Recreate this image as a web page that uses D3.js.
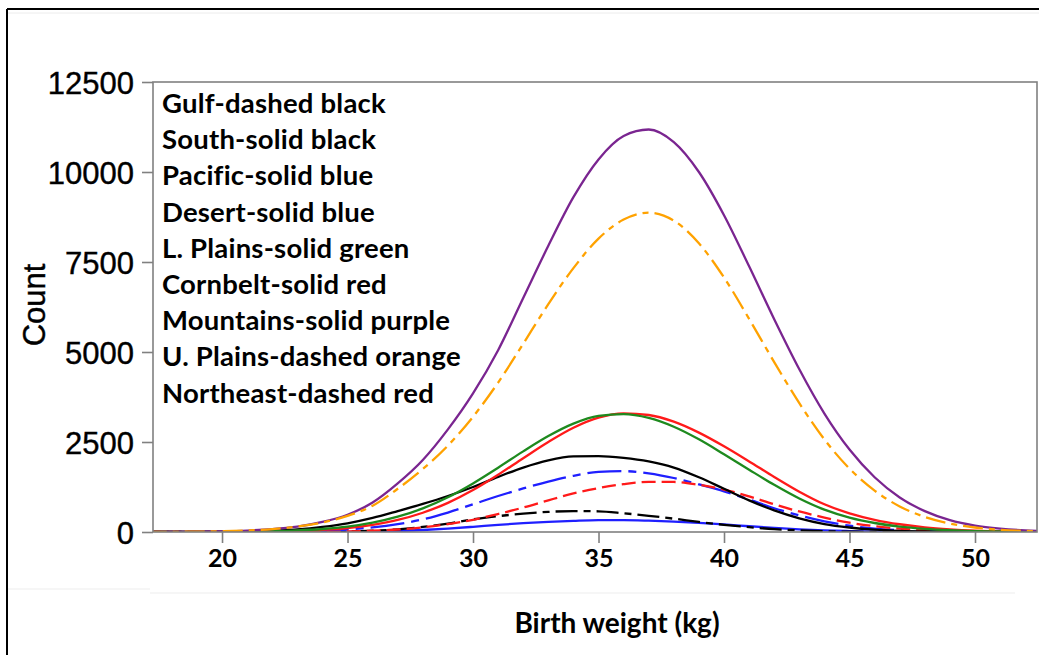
<!DOCTYPE html>
<html><head><meta charset="utf-8">
<script src="https://cdn.jsdelivr.net/npm/d3@7"></script>
<style>html,body{margin:0;padding:0;background:#fff;}svg{display:block;}</style>
</head><body>
<script>
// ---- data ----
const weights = [17,18,19,20,21,22,23,24,25,26,27,28,29,30,31,32,33,34,35,36,37,38,39,40,41,42,43,44,45,46,47,48,49,50,51,52,53];
const gulf      = [0,0,0,0,1,2,3,5,15,35,75,140,230,350,440,510,560,580,575,520,450,370,280,200,135,80,45,22,10,4,2,1,0,0,0,0,0];
const south     = [0,1,2,5,12,30,70,140,240,390,580,780,1000,1250,1530,1790,1990,2100,2110,2060,1960,1790,1520,1200,880,600,380,220,125,65,32,15,7,3,1,0,0];
const pacific   = [0,0,0,1,2,5,15,35,70,130,220,350,540,770,1000,1210,1400,1560,1670,1690,1630,1500,1320,1130,900,660,460,295,175,95,48,22,10,4,2,0,0];
const desert    = [0,0,0,0,0,1,2,4,6,10,25,55,95,145,200,245,280,310,330,330,315,290,255,210,160,115,75,45,25,12,5,2,1,0,0,0,0];
const lplains   = [0,1,2,4,10,21,43,83,150,260,425,655,965,1350,1785,2240,2665,3010,3225,3275,3170,2925,2575,2160,1730,1310,930,620,400,250,150,88,50,27,14,7,3];
const cornbelt  = [0,1,2,3,6,14,30,60,110,200,335,535,810,1165,1590,2050,2500,2895,3175,3295,3250,3065,2760,2380,1960,1530,1120,770,520,340,215,130,75,40,22,12,6];
const mountains = [2,4,9,19,40,80,150,280,480,820,1350,2000,2850,3850,5050,6500,7950,9300,10350,11000,11180,10830,10000,8800,7380,5910,4520,3290,2290,1520,960,580,330,180,95,45,20];
const uplains   = [2,5,10,21,43,82,150,265,450,730,1200,1750,2400,3200,4150,5230,6330,7330,8150,8680,8870,8650,8020,7070,5920,4720,3580,2570,1760,1150,710,420,235,125,63,30,14];
const northeast = [0,0,0,0,0,1,2,5,15,35,70,130,220,340,500,680,880,1070,1220,1330,1390,1390,1310,1180,990,770,570,400,260,160,95,50,25,12,5,2,0];
const legendLines = ["Gulf-dashed black","South-solid black","Pacific-solid blue","Desert-solid blue","L. Plains-solid green","Cornbelt-solid red","Mountains-solid purple","U. Plains-dashed orange","Northeast-dashed red"];
const xTicks = [20,25,30,35,40,45,50];
const yTicks = [0,2500,5000,7500,10000,12500];

// drawing order / style
const series = [
  {values: desert,    color:"#1f1fff", dash:null},
  {values: gulf,      color:"#000000", dash:"22,6,7,6"},
  {values: pacific,   color:"#1f1fff", dash:"34,7,8,7"},
  {values: northeast, color:"#ff1a1a", dash:"14,6"},
  {values: south,     color:"#000000", dash:null},
  {values: cornbelt,  color:"#ff1a1a", dash:null},
  {values: lplains,   color:"#1e8a1e", dash:null},
  {values: mountains, color:"#7a2590", dash:null},
  {values: uplains,   color:"#ffa200", dash:"20,6,6,6"}
];

const W = 1039, H = 655;
const svg = d3.select("body").append("svg").attr("width", W).attr("height", H);
svg.append("rect").attr("width", W).attr("height", H).attr("fill", "#fff");

// outer frame and faint lines
svg.append("line").attr("x1",7).attr("y1",9).attr("x2",W).attr("y2",9).attr("stroke","#000").attr("stroke-width",2);
svg.append("line").attr("x1",7).attr("y1",9).attr("x2",7).attr("y2",H).attr("stroke","#000").attr("stroke-width",2);
svg.append("line").attr("x1",8).attr("y1",13).attr("x2",W).attr("y2",13).attr("stroke","#ececec").attr("stroke-width",1);
svg.append("line").attr("x1",8).attr("y1",589).attr("x2",150).attr("y2",589).attr("stroke","#ededed").attr("stroke-width",1);
svg.append("line").attr("x1",150).attr("y1",593).attr("x2",1015).attr("y2",593).attr("stroke","#ededed").attr("stroke-width",1);

const x = d3.scaleLinear().domain([17.25, 52.47]).range([153, 1037]);
const y = d3.scaleLinear().domain([0, 12500]).range([532, 82]);

svg.append("clipPath").attr("id","plotclip").append("rect")
  .attr("x",153).attr("y",82).attr("width",1037-153).attr("height",532-82);

const line = d3.line().x((d,i)=>x(weights[i])).y(d=>y(d)).curve(d3.curveMonotoneX);
const g = svg.append("g").attr("clip-path","url(#plotclip)");
series.forEach(s=>{
  g.append("path").attr("d", line(s.values)).attr("fill","none")
   .attr("stroke", s.color).attr("stroke-width", 2.3)
   .attr("stroke-dasharray", s.dash).attr("stroke-linejoin","round");
});

// plot box
svg.append("rect").attr("x",153).attr("y",82).attr("width",1037-153).attr("height",532-82)
  .attr("fill","none").attr("stroke","#808080").attr("stroke-width",1.6);

// axes
const yAxis = d3.axisLeft(y).tickValues(yTicks).tickSize(11).tickPadding(8).tickFormat(d=>String(d));
const ya = svg.append("g").attr("transform","translate(153,0)").call(yAxis);
ya.select(".domain").remove();
ya.selectAll(".tick line").attr("stroke","#808080").attr("stroke-width",1.6);
ya.selectAll(".tick text").attr("font-family","'Liberation Sans', Arial, sans-serif").attr("font-size",31)
  .attr("fill","#000").attr("stroke","#000").attr("stroke-width",0.4).attr("dy","0.36em");

const xAxis = d3.axisBottom(x).tickValues(xTicks).tickSize(11).tickPadding(6).tickFormat(d=>String(d));
const xa = svg.append("g").attr("transform","translate(0,532)").call(xAxis);
xa.select(".domain").remove();
xa.selectAll(".tick line").attr("stroke","#808080").attr("stroke-width",1.6);
xa.selectAll(".tick text").attr("font-family","Lato, sans-serif").attr("font-weight","bold").attr("font-size",25).attr("fill","#000");

// axis titles
svg.append("text").attr("transform","translate(45,305) rotate(-90)").attr("text-anchor","middle")
  .attr("font-family","'Liberation Sans', Arial, sans-serif").attr("font-size",31).attr("fill","#000")
  .attr("stroke","#000").attr("stroke-width",0.4).text("Count");
svg.append("text").attr("x",617).attr("y",633).attr("text-anchor","middle")
  .attr("font-family","Lato, sans-serif").attr("font-weight","bold").attr("font-size",28).attr("fill","#000").text("Birth weight (kg)");

// legend text
svg.append("g").selectAll("text").data(legendLines).join("text")
  .attr("x",162).attr("y",(d,i)=>113 + i*36.2)
  .attr("font-family","Lato, sans-serif").attr("font-weight","bold").attr("font-size",27.5)
  .attr("letter-spacing",0.2).attr("fill","#000")
  .text(d=>d);
</script>
</body></html>
